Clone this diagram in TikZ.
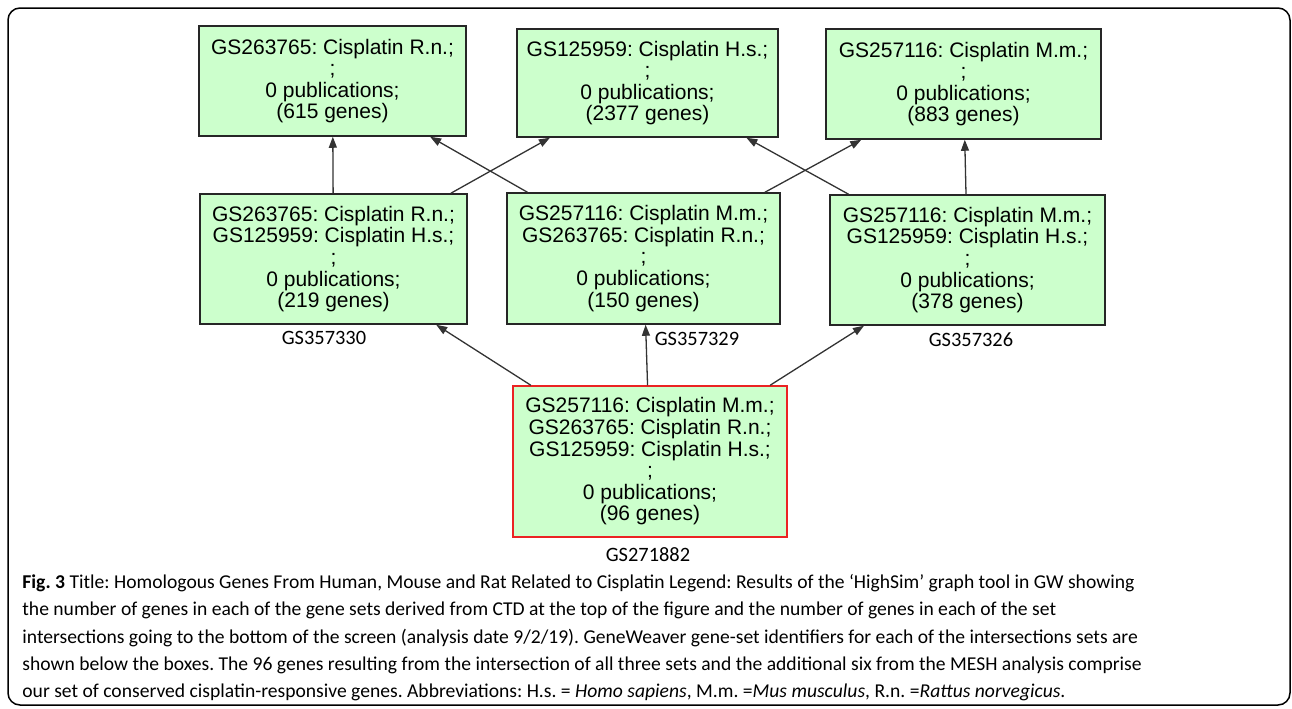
\documentclass[tikz,border=0pt]{standalone}
\usepackage{fontspec}
\setmainfont{Liberation Sans}
\newfontfamily\capfont{Carlito}
\usepackage{tikz}
\usetikzlibrary{positioning}
\usetikzlibrary{arrows.meta}
\definecolor{boxgreen}{RGB}{204,255,204}
\definecolor{edgegray}{RGB}{51,51,51}
\definecolor{setred}{RGB}{235,35,35}
\frenchspacing

\begin{document}
\begin{tikzpicture}[x=0.5pt,y=-0.5pt,>={Triangle[length=5.5pt,width=4pt]},
  gset/.style={draw=black!85,fill=boxgreen,line width=0.75pt,align=center,inner sep=0pt,
    font=\fontsize{10.5pt}{10.8pt}\selectfont},
  gsid/.style={font=\capfont\fontsize{10.2pt}{12pt}\selectfont,inner sep=1pt},
  link/.style={->,draw=edgegray,color=edgegray,line width=0.65pt}]
  \useasboundingbox (0,0) rectangle (1292,708);
  % Frame
  \draw[line width=0.75pt,rounded corners=6pt] (8,8) rectangle (1290,705);
  % Gene sets from CTD
  \node[gset,minimum width=133.5pt,minimum height=55pt] (t1) at (332.5,81)
    {GS263765: Cisplatin R.n.;\\;\\0 publications;\\(615 genes)};
  \node[gset,minimum width=130.5pt,minimum height=54pt] (t2) at (647.5,83)
    {GS125959: Cisplatin H.s.;\\;\\0 publications;\\(2377 genes)};
  \node[gset,minimum width=137.5pt,minimum height=55pt] (t3) at (963.5,84)
    {GS257116: Cisplatin M.m.;\\;\\0 publications;\\(883 genes)};
  % Intersections of two sets
  \node[gset,minimum width=133.5pt,minimum height=65pt] (m1) at (333.5,259)
    {GS263765: Cisplatin R.n.;\\GS125959: Cisplatin H.s.;\\;\\0 publications;\\(219 genes)};
  \node[gset,minimum width=136.5pt,minimum height=65.5pt] (m2) at (643.5,258.5)
    {GS257116: Cisplatin M.m.;\\GS263765: Cisplatin R.n.;\\;\\0 publications;\\(150 genes)};
  \node[gset,minimum width=137.5pt,minimum height=65pt] (m3) at (967.5,260)
    {GS257116: Cisplatin M.m.;\\GS125959: Cisplatin H.s.;\\;\\0 publications;\\(378 genes)};
  % Intersection of all three
  \node[gset,draw=setred,minimum width=137pt,minimum height=75.5pt] (b) at (650,461.5)
    {GS257116: Cisplatin M.m.;\\GS263765: Cisplatin R.n.;\\GS125959: Cisplatin H.s.;\\;\\0 publications;\\(96 genes)};
  % Set identifiers
  \node[gsid,below=2pt of m1,xshift=-4.75pt] (id1) {GS357330};
  \node[gsid,below=2.5pt of m2,xshift=26.75pt] (id2) {GS357329};
  \node[gsid,below=2.5pt of m3,xshift=1.75pt] (id3) {GS357326};
  \node[gsid,below=3.5pt of b,xshift=-1pt] (id4) {GS271882};
  % Edges
  \path[link] (m1) edge (t1)
    (m1) edge (t2)
    (m2) edge (t1)
    (m2) edge (t3)
    (m3) edge (t2)
    (m3) edge (t3)
    (b) edge (m1)
    (b) edge (m2)
    (b) edge (m3);
  % Caption
  \node[anchor=north west,align=left,inner sep=0pt,
    font=\capfont\fontsize{9.8pt}{13.65pt}\selectfont] (cap) at (22,574)
    {\textbf{Fig. 3} Title: Homologous Genes From Human, Mouse and Rat Related to Cisplatin Legend: Results of the ‘HighSim’ graph tool in GW showing\\
     the number of genes in each of the gene sets derived from CTD at the top of the figure and the number of genes in each of the set\\
     intersections going to the bottom of the screen (analysis date 9/2/19). GeneWeaver gene-set identifiers for each of the intersections sets are\\
     shown below the boxes. The 96 genes resulting from the intersection of all three sets and the additional six from the MESH analysis comprise\\
     our set of conserved cisplatin-responsive genes. Abbreviations: H.s. = \textit{Homo sapiens}, M.m. =\textit{Mus musculus}, R.n. =\textit{Rattus norvegicus}.};
\end{tikzpicture}
\end{document}
